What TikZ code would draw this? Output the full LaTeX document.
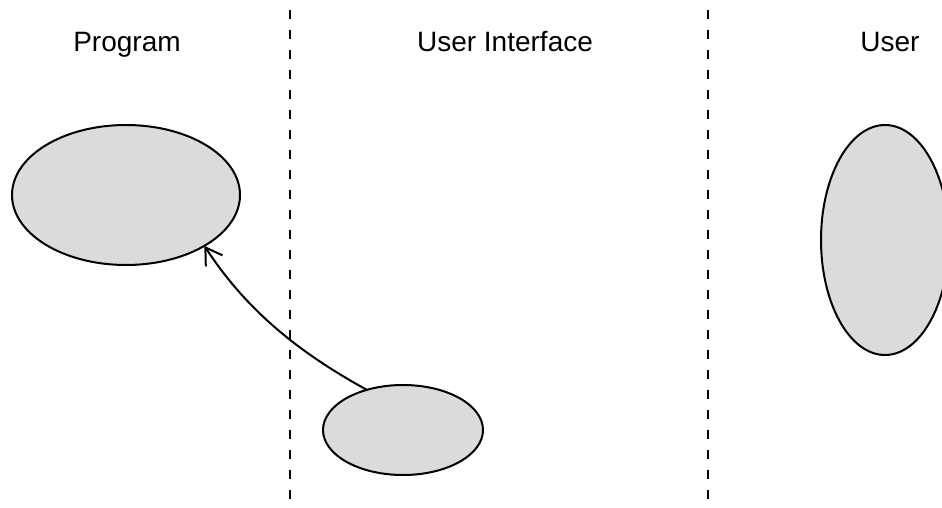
\documentclass[tikz,border=0pt]{standalone}
\usepackage{fontspec}
\setmainfont{Liberation Sans}
\usetikzlibrary{shapes.geometric,arrows.meta}
\begin{document}
\begin{tikzpicture}[x=1pt,y=-1pt,
  blob/.style={ellipse,draw,line width=2pt,fill=gray!28,inner sep=0pt,outer sep=0pt},
  lane/.style={line width=2pt,dash pattern=on 9pt off 11pt},
  title/.style={font=\fontsize{28}{30}\selectfont,anchor=base}]
\useasboundingbox (0,0) rectangle (942,508);
\clip (0,0) rectangle (942,508);
\draw[lane] (290,10)--(290,508);
\draw[lane] (708,10)--(708,508);
\node[title] (tprog) at (127,52) {Program};
\node[title] (tui) at (505,52) {User Interface};
\node[title] (tuser) at (890,52) {User};
\node[blob,minimum width=228pt,minimum height=140pt] (prog) at (126,195) {};
\node[blob,minimum width=160pt,minimum height=90pt] (ui) at (403,430) {};
\node[blob,minimum width=128pt,minimum height=230pt] (user) at (885,240) {};
\draw[line width=2pt,-{Straight Barb[length=16pt,width=20pt,line width=2pt]}] (ui.132) .. controls (285,345) and (240,300) .. (prog.-33);
\end{tikzpicture}
\end{document}
